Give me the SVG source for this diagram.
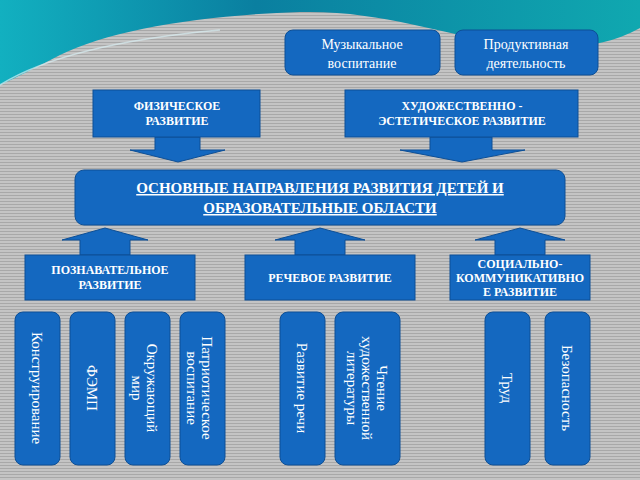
<svg xmlns="http://www.w3.org/2000/svg" width="640" height="480" viewBox="0 0 640 480">
<defs>
<pattern id="hatch" width="3" height="3" patternUnits="userSpaceOnUse"><rect width="3" height="3" fill="#c4c4c4"/><rect width="3" height="1" fill="#a8a8a8"/></pattern>
<linearGradient id="tealg" x1="0" y1="0" x2="1" y2="0"><stop offset="0" stop-color="#12b0c0"/><stop offset="0.4" stop-color="#0a7fa0"/><stop offset="1" stop-color="#10a8b0"/></linearGradient>
</defs>
<style>
.b{fill:#1468c0;stroke:#0d4f96;stroke-width:1}
.t{fill:#fff;font-family:"Liberation Serif",serif;text-anchor:middle}
.bold{font-weight:bold;font-size:12px}
.n{font-size:14px}
.v{font-size:15px}
</style>
<rect width="640" height="480" fill="url(#hatch)"/>
<path d="M0,0 H640 V28 C600,50 560,50 500,42 C440,34 380,10 300,12 C200,15 110,30 60,55 C35,68 15,78 0,85 Z" fill="url(#tealg)"/>
<path d="M0,85 C40,60 110,40 220,30" fill="none" stroke="#d8eef2" stroke-width="1.5" opacity="0.7"/>
<g id="connectors">
<path class="b" d="M155,137 V150 H130 L178,162 L225,150 H200 V137 Z"/>
<path class="b" d="M430,137 V150 H400 L462,162 L525,150 H492 V137 Z"/>
<path class="b" d="M80,255 V240 H62 L105,228 L148,240 H130 V255 Z"/>
<path class="b" d="M295,255 V240 H275 L320,228 L365,240 H345 V255 Z"/>
<path class="b" d="M495,255 V240 H475 L520,228 L565,240 H545 V255 Z"/>
</g>
<g id="music"><rect class="b" x="285" y="30" width="155" height="45" rx="8"/><text class="t n" x="362" y="49">Музыкальное</text><text class="t n" x="362" y="68">воспитание</text></g>
<g id="prod"><rect class="b" x="455" y="30" width="143" height="45" rx="8"/><text class="t n" x="526" y="49">Продуктивная</text><text class="t n" x="526" y="68">деятельность</text></g>
<g id="phys"><rect class="b" x="93" y="90" width="167" height="47"/><text class="t bold" x="177" y="110">ФИЗИЧЕСКОЕ</text><text class="t bold" x="177" y="125">РАЗВИТИЕ</text></g>
<g id="art"><rect class="b" x="345" y="90" width="233" height="47"/><text class="t bold" x="462" y="110">ХУДОЖЕСТВЕННО -</text><text class="t bold" x="462" y="125">ЭСТЕТИЧЕСКОЕ РАЗВИТИЕ</text></g>
<g id="main"><rect class="b" x="75" y="170" width="490" height="55" rx="9"/><text class="t" x="320" y="193" font-size="15" font-weight="bold" text-decoration="underline">ОСНОВНЫЕ НАПРАВЛЕНИЯ РАЗВИТИЯ ДЕТЕЙ И</text><text class="t" x="320" y="213" font-size="15" font-weight="bold" text-decoration="underline">ОБРАЗОВАТЕЛЬНЫЕ ОБЛАСТИ</text></g>
<g id="cog"><rect class="b" x="25" y="255" width="170" height="45"/><text class="t bold" x="110" y="274">ПОЗНАВАТЕЛЬНОЕ</text><text class="t bold" x="110" y="289">РАЗВИТИЕ</text></g>
<g id="speech"><rect class="b" x="245" y="255" width="170" height="45"/><text class="t bold" x="330" y="282">РЕЧЕВОЕ РАЗВИТИЕ</text></g>
<g id="social"><rect class="b" x="450" y="255" width="140" height="45"/><text class="t bold" x="520" y="268">СОЦИАЛЬНО-</text><text class="t bold" x="520" y="282">КОММУНИКАТИВНО</text><text class="t bold" x="520" y="296">Е РАЗВИТИЕ</text></g>
<g id="v1"><rect class="b" x="15" y="312" width="45" height="153" rx="8"/><text class="t v" transform="translate(32,388) rotate(90)">Конструирование</text></g>
<g id="v2"><rect class="b" x="70" y="312" width="45" height="153" rx="8"/><text class="t v" transform="translate(87,388) rotate(90)">ФЭМП</text></g>
<g id="v3"><rect class="b" x="125" y="312" width="45" height="153" rx="8"/><text class="t v" transform="translate(147,388) rotate(90)">Окружающий</text><text class="t v" transform="translate(132,388) rotate(90)">мир</text></g>
<g id="v4"><rect class="b" x="180" y="312" width="45" height="153" rx="8"/><text class="t v" transform="translate(202,388) rotate(90)">Патриотическое</text><text class="t v" transform="translate(187,388) rotate(90)">воспитание</text></g>
<g id="v5"><rect class="b" x="280" y="312" width="45" height="153" rx="8"/><text class="t v" transform="translate(297,388) rotate(90)">Развитие речи</text></g>
<g id="v6"><rect class="b" x="335" y="312" width="65" height="153" rx="8"/><text class="t v" transform="translate(377,388) rotate(90)">Чтение</text><text class="t v" transform="translate(362,388) rotate(90)">художественной</text><text class="t v" transform="translate(347,388) rotate(90)">литературы</text></g>
<g id="v7"><rect class="b" x="485" y="312" width="45" height="153" rx="8"/><text class="t v" transform="translate(502,388) rotate(90)">Труд</text></g>
<g id="v8"><rect class="b" x="545" y="312" width="45" height="153" rx="8"/><text class="t v" transform="translate(562,388) rotate(90)">Безопасность</text></g>
</svg>
